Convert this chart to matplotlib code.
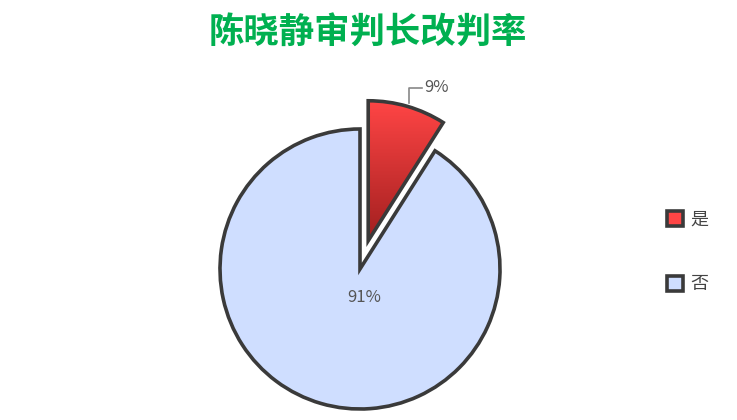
"""Pie chart of the reversal rate (改判率) for one presiding judge."""

import matplotlib
matplotlib.use("Agg")
import matplotlib.pyplot as plt
import numpy as np
from matplotlib.colors import LinearSegmentedColormap
from matplotlib.patches import Patch

plt.rcParams["font.family"] = ["Noto Sans CJK SC", "DejaVu Sans"]

title = "陈晓静审判长改判率"
categories = ["是", "否"]
values = [9, 91]
pct_labels = ["9%", "91%"]

edge = "#3a3a3a"
blue = "#cfdeff"
red_top, red_bottom = "#ff4545", "#a11f1f"

fig = plt.figure(figsize=(7.37, 4.2), dpi=100)
ax = fig.add_axes([0, 0, 1, 1])

center = (360, 151)
radius = 140
# explode offset is in data units here, so scale it by the radius
wedges, _ = ax.pie(
    values,
    startangle=90,
    counterclock=False,
    explode=[0.21 * radius, 0],
    center=center,
    radius=radius,
    colors=[red_top, blue],
    wedgeprops=dict(edgecolor=edge, linewidth=2.6, joinstyle="miter"),
    frame=True,
)
ax.set_xlim(0, 737)
ax.set_ylim(0, 420)
ax.axis("off")

# vertical red gradient clipped to the exploded slice
red = wedges[0]
verts = red.get_path().vertices
x0, x1 = verts[:, 0].min(), verts[:, 0].max()
y0, y1 = verts[:, 1].min(), verts[:, 1].max()
cmap = LinearSegmentedColormap.from_list("redgrad", [red_bottom, red_top])
grad = np.linspace(0, 1, 256).reshape(-1, 1)
img = ax.imshow(grad, cmap=cmap, extent=(x0, x1, y0, y1), origin="lower",
                aspect="auto", zorder=0.9)
img.set_clip_path(red)
red.set_facecolor("none")

# percentage labels
for w, lab in zip(wedges, pct_labels):
    mid = np.deg2rad((w.theta1 + w.theta2) / 2)
    cx, cy = w.center
    if lab == "9%":
        ex, ey = cx + w.r * np.cos(mid), cy + w.r * np.sin(mid)
        ax.plot([ex + 2, ex + 2, ex + 15], [ey + 3, ey + 18, ey + 18],
                color="#888888", lw=1.2, zorder=3)
        ax.text(ex + 17, ey + 19, lab, ha="left", va="center",
                fontsize=12, color="#555555")
    else:
        ax.text(cx + 4, cy - 29, lab, ha="center", va="center",
                fontsize=12, color="#555555")

ax.text(368, 387, title, ha="center", va="center", fontsize=25.5,
        fontweight="bold", color="#00b050")

handles = [Patch(facecolor=red_top, edgecolor=edge, linewidth=2.6),
           Patch(facecolor=blue, edgecolor=edge, linewidth=2.6)]
ax.legend(handles, categories, loc="center left", bbox_to_anchor=(0.883, 0.4),
          frameon=False, handlelength=0.9, handleheight=0.9, handletextpad=0.4,
          labelspacing=2.6, fontsize=13, labelcolor="#444444")

fig.savefig("out.png", dpi=100)
